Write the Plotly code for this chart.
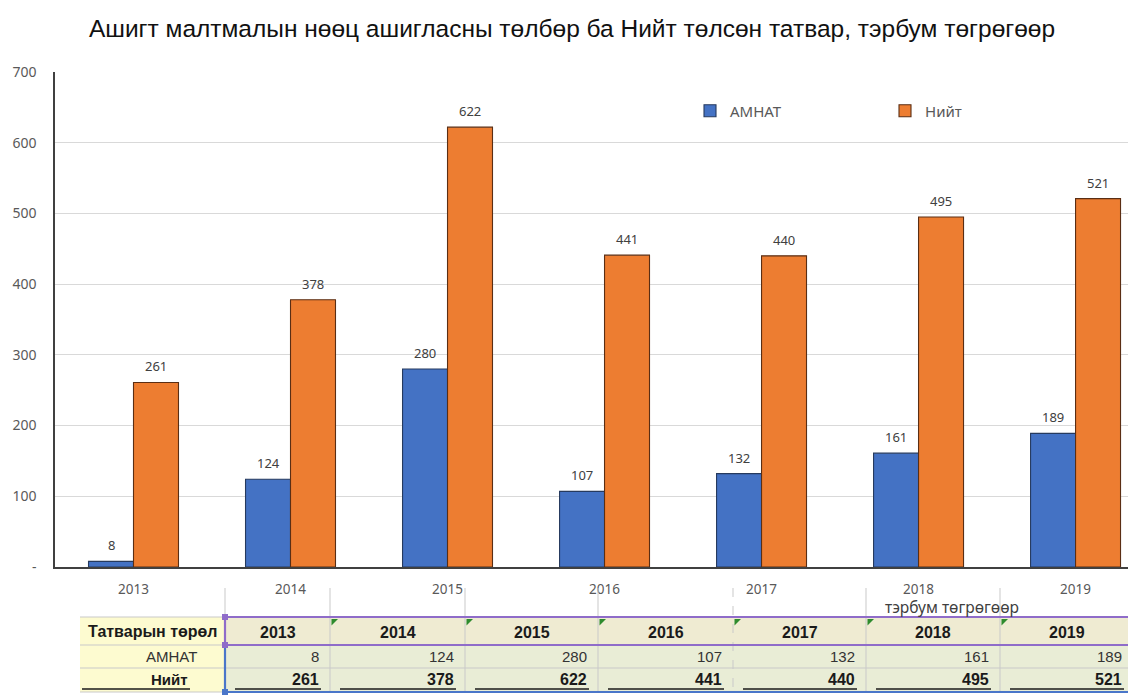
import plotly.graph_objects as go

years = ["2013", "2014", "2015", "2016", "2017", "2018", "2019"]
amnat = [8, 124, 280, 107, 132, 161, 189]
niit = [261, 378, 622, 441, 440, 495, 521]
series_names = ["АМНАТ", "Нийт"]
title_text = "Ашигт малтмалын нөөц ашигласны төлбөр ба Нийт төлсөн татвар, тэрбум төгрөгөөр"
table_header = "Татварын төрөл"
unit_text = "тэрбум төгрөгөөр"
y_ticks = [0, 100, 200, 300, 400, 500, 600, 700]
y_tick_labels = ["-", "100", "200", "300", "400", "500", "600", "700"]

# The page body has an 8px margin; work in screen pixels and shrink the figure.
OFF = 8
W, H = 1136 - OFF, 696 - OFF
SL, SR, ST, SB = 55, 1136, 72, 567   # plot area in screen pixels


def px(x):
    return (x - SL) / (SR - SL)


def py(y):
    return (SB - y) / (SB - ST)


BLUE = "#4472C4"
ORANGE = "#ED7D31"
AXIS_TXT = "#595959"
LABEL_TXT = "#404040"

fig = go.Figure()
fig.add_trace(go.Bar(
    x=years, y=amnat, name=series_names[0],
    marker=dict(color=BLUE, line=dict(color="#263A5E", width=1.1)),
))
fig.add_trace(go.Bar(
    x=years, y=niit, name=series_names[1],
    marker=dict(color=ORANGE, line=dict(color="#5A2E14", width=1.1)),
))

shapes = []
annotations = []

# data labels above bars (category index on the x axis, value on the y axis)
for i in range(len(years)):
    for vals, shift in ((amnat, -22.5), (niit, 22.5)):
        annotations.append(dict(x=i, y=vals[i], xref="x", yref="y", text=str(vals[i]),
                                showarrow=False, xshift=shift, yshift=16,
                                xanchor="center", yanchor="middle",
                                font=dict(size=13, color=LABEL_TXT, family="Noto Sans")))

# ---- table geometry (screen pixels) ----
col_edges = [225, 330, 465, 598, 733, 866, 1000, 1133]
lab_l = 80
row_edges = [617, 645, 668, 692]
HEADER_BG = "#EFEBD2"
DATA_BG = "#E9EDD6"
LABEL_BG = "#FDFBD0"
GRID = "#C9C9C9"


def rect(x0, y0, x1, y1, fill, line_color=None, width=0):
    shapes.append(dict(type="rect", xref="paper", yref="paper",
                       x0=px(x0), x1=px(x1), y0=py(y0), y1=py(y1),
                       fillcolor=fill, layer="above",
                       line=dict(width=width, color=line_color or fill)))


def line(x0, y0, x1, y1, color, width=1, dash=None):
    d = dict(type="line", xref="paper", yref="paper",
             x0=px(x0), x1=px(x1), y0=py(y0), y1=py(y1),
             layer="above", line=dict(color=color, width=width))
    if dash:
        d["line"]["dash"] = dash
    shapes.append(d)


def text(x, y, s, size=15, color="#1a1a1a", anchor="center", family="Liberation Sans"):
    annotations.append(dict(xref="paper", yref="paper", x=px(x), y=py(y),
                            text=s, showarrow=False, xanchor=anchor, yanchor="middle",
                            font=dict(size=size, color=color, family=family)))


# backgrounds
rect(lab_l, row_edges[0], col_edges[0], row_edges[3], LABEL_BG)
rect(col_edges[0], row_edges[0], col_edges[-1], row_edges[1], HEADER_BG)
rect(col_edges[0], row_edges[1], col_edges[-1], row_edges[3], DATA_BG)

# vertical grid lines (excel cells), extending above the table
for i, xe in enumerate(col_edges[1:-1]):
    dash = "dash" if i == 3 else None
    line(xe, 588, xe, row_edges[3], GRID, 1, dash)
line(col_edges[0], 588, col_edges[0], row_edges[0], GRID, 1)
# horizontal grid lines
for ye in row_edges:
    line(lab_l, ye, col_edges[0], ye, GRID, 1)
line(col_edges[0], row_edges[2], col_edges[-1], row_edges[2], GRID, 1)

# header selection (purple) and data selection (blue)
PURPLE = "#8F6CC9"
SELBLUE = "#4A76C9"
rect(col_edges[0], row_edges[1], col_edges[-1], row_edges[3], "rgba(0,0,0,0)", SELBLUE, 2.2)
rect(col_edges[0], row_edges[0], col_edges[-1], row_edges[1], "rgba(0,0,0,0)", PURPLE, 2.2)
for (hx, hy, c) in [(col_edges[0], row_edges[0], PURPLE), (col_edges[0], row_edges[1], PURPLE),
                    (col_edges[-1], row_edges[0], PURPLE), (col_edges[-1], row_edges[1], PURPLE),
                    (col_edges[0], row_edges[3], SELBLUE), (col_edges[-1], row_edges[3], SELBLUE)]:
    rect(hx - 3, hy - 3, hx + 3, hy + 3, c, c, 0)

# green triangles (excel indicators)
for xe in col_edges[1:-1]:
    x0, y0 = px(xe + 1.5), py(row_edges[0] + 2)
    x1 = px(xe + 8)
    y1 = py(row_edges[0] + 8.5)
    shapes.append(dict(type="path", xref="paper", yref="paper",
                       path=f"M {x0} {y0} L {x1} {y0} L {x0} {y1} Z",
                       fillcolor="#2E8B2E", line=dict(width=0), layer="above"))

# header texts
text(col_edges[0] - 5, (row_edges[0] + row_edges[1]) / 2, f"<b>{table_header}</b>", 16, anchor="right")
for i, yr in enumerate(years):
    cx = (col_edges[i] + col_edges[i + 1]) / 2
    text(cx, (row_edges[0] + row_edges[1]) / 2 + 1, f"<b>{yr}</b>", 16)

# data rows
text(199, (row_edges[1] + row_edges[2]) / 2, series_names[0], 15, "#333333", "right")
text(190, (row_edges[2] + row_edges[3]) / 2 - 1, f"<b>{series_names[1]}</b>", 15, "#1a1a1a", "right")
line(lab_l + 2, 689, 190, 689, "#1a1a1a", 1.3)
for i in range(len(years)):
    rx = col_edges[i + 1] - 9
    text(rx, (row_edges[1] + row_edges[2]) / 2, str(amnat[i]), 15, "#333333", "right")
    text(rx, (row_edges[2] + row_edges[3]) / 2 - 1, f"<b>{niit[i]}</b>", 16, "#1a1a1a", "right")
    line(col_edges[i] + 10, 689, rx, 689, "#1a1a1a", 1.3)

text(952, 607, unit_text, 15.5, "#404040", family="Noto Sans")

fig.update_layout(
    width=W, height=H,
    margin=dict(l=SL - OFF, r=0, t=ST - OFF, b=H - (SB - OFF), pad=0),
    paper_bgcolor="white", plot_bgcolor="white",
    title=dict(text=title_text, x=px(572), xref="paper", xanchor="center",
               y=1 - (28 - OFF) / H, yanchor="middle",
               font=dict(size=24.5, color="#111111", family="Liberation Sans")),
    barmode="group", bargap=0.427, bargroupgap=0,
    showlegend=True,
    legend=dict(orientation="h", x=px(690), y=py(111), xanchor="left", yanchor="middle",
                entrywidth=150, entrywidthmode="pixels",
                font=dict(size=15, color=AXIS_TXT, family="Noto Sans"),
                bgcolor="rgba(0,0,0,0)"),
    xaxis=dict(type="category", range=[-0.5, 6.385], showgrid=False,
               showline=True, linecolor="#404040", linewidth=1.5,
               ticks="", tickfont=dict(size=13.5, color=AXIS_TXT, family="Noto Sans"),
               ticklabelstandoff=9),
    yaxis=dict(range=[0, 700], tickvals=y_ticks, ticktext=y_tick_labels,
               showgrid=True, gridcolor="#D9D9D9", gridwidth=1,
               showline=True, linecolor="#404040", linewidth=1.5, zeroline=False,
               ticks="", tickfont=dict(size=14, color=AXIS_TXT, family="Noto Sans"),
               ticklabelstandoff=14),
    shapes=shapes, annotations=annotations,
)

fig.write_html("out.html")
